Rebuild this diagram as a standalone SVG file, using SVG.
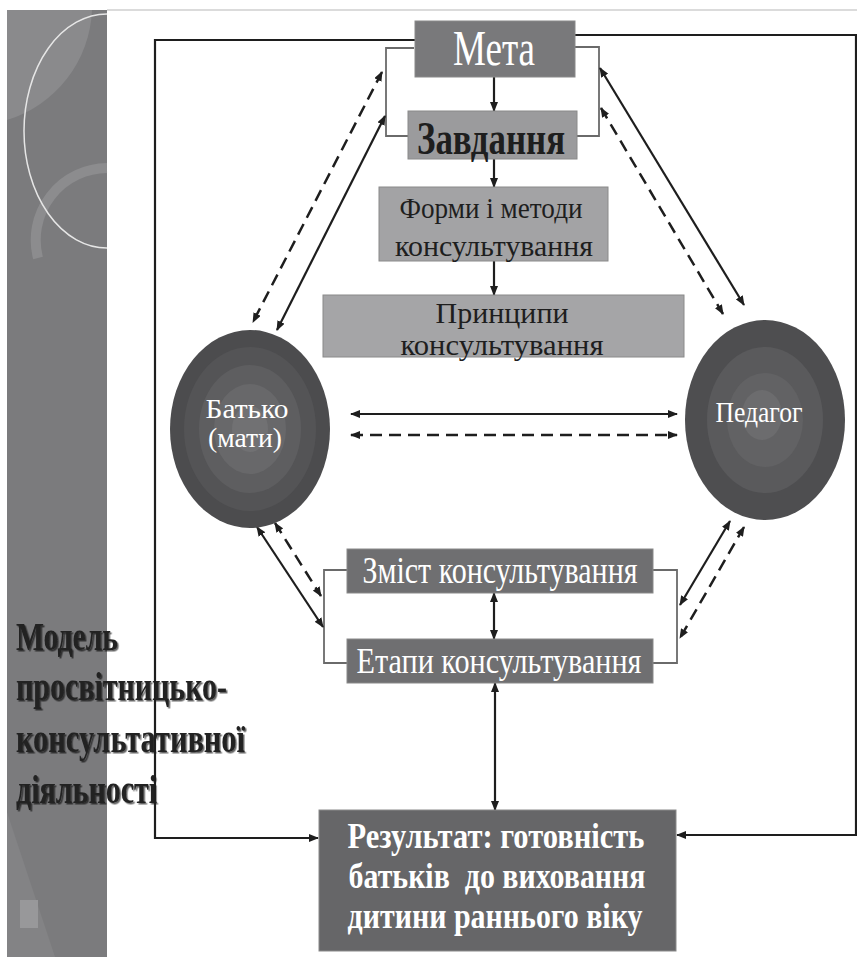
<svg xmlns="http://www.w3.org/2000/svg" width="857" height="957" viewBox="0 0 857 957">
<style>
.t{font-family:"Liberation Serif","Times New Roman",serif;text-anchor:middle}
.w{fill:#ffffff}
.d{fill:#1e1e1e}
.ln{stroke:#1e1e1e;stroke-width:2.2;fill:none}
.ds{stroke:#1e1e1e;stroke-width:2.5;fill:none;stroke-dasharray:12 7}
.br{stroke:#6a6a6a;stroke-width:1.8;fill:none}
.bx{stroke:#8a8a8a;stroke-width:1}
.side{font-family:"Liberation Serif","Times New Roman",serif;font-weight:bold;fill:#222222}
</style>
<defs>
<marker id="ah" viewBox="0 0 10 8" refX="9" refY="4" markerWidth="10" markerHeight="8" markerUnits="userSpaceOnUse" orient="auto-start-reverse">
<path d="M0,0 L10,4 L0,8 z" fill="#1e1e1e"/>
</marker>
<filter id="sh" x="-5%" y="-20%" width="110%" height="140%">
<feDropShadow dx="1.5" dy="1.5" stdDeviation="0.6" flood-color="#000" flood-opacity="0.6"/>
</filter>
</defs>
<rect width="857" height="957" fill="#ffffff"/>
<g id="sidepanel">
<rect x="7" y="10" width="100" height="947" fill="#7b7b7d"/>
<path d="M7,10 L92,10 A120,120 0 0 1 7,120 Z" fill="#8a8a8c"/>
<path d="M7,812 L55,957 L7,957 Z" fill="#838385"/>
<path d="M107,168 A72,72 0 0 0 38,258" stroke="#8c8c8e" stroke-width="10" fill="none"/>
<path d="M107,14 A83,117 0 0 0 107,248" stroke="#e6e6e6" stroke-width="1.5" fill="none"/>
<rect x="20" y="900" width="18" height="28" fill="#98989a"/>
<line x1="107" y1="10" x2="857" y2="10" stroke="#cfcfcf" stroke-width="1.5"/>
<g filter="url(#sh)">
<text class="side" x="16" y="650" font-size="40" textLength="102" lengthAdjust="spacingAndGlyphs">Модель</text>
<text class="side" x="16" y="700" font-size="40" textLength="211" lengthAdjust="spacingAndGlyphs">просвітницько-</text>
<text class="side" x="16" y="752" font-size="40" textLength="229" lengthAdjust="spacingAndGlyphs">консультативної</text>
<text class="side" x="16" y="803" font-size="40" textLength="141" lengthAdjust="spacingAndGlyphs">діяльності</text>
</g>
</g>
<g id="connectors">
<polyline class="ln" points="415,40 155,40 155,838 318,838" stroke-width="2.5" marker-end="url(#ah)"/>
<polyline class="ln" points="575,35 856,35 856,835 677,835" stroke-width="2.5" marker-end="url(#ah)"/>
<line class="ln" x1="494" y1="77" x2="494" y2="111" marker-end="url(#ah)"/>
<polyline class="br" points="414,48 386,48 386,136 408,136"/>
<polyline class="br" points="575,47 599,47 599,136 577,136"/>
<line class="ln" x1="494" y1="159" x2="494" y2="187" marker-end="url(#ah)"/>
<line class="ln" x1="494" y1="261" x2="494" y2="295" marker-end="url(#ah)"/>
<line class="ln" x1="385" y1="116" x2="277" y2="330" marker-start="url(#ah)" marker-end="url(#ah)"/>
<line class="ds" x1="382" y1="72" x2="253" y2="322" marker-start="url(#ah)" marker-end="url(#ah)"/>
<line class="ln" x1="600" y1="68" x2="744" y2="305" marker-start="url(#ah)" marker-end="url(#ah)"/>
<line class="ds" x1="601" y1="108" x2="723" y2="314" marker-start="url(#ah)" marker-end="url(#ah)"/>
<line class="ln" x1="351" y1="414" x2="677" y2="414" stroke-width="3" marker-start="url(#ah)" marker-end="url(#ah)"/>
<line class="ds" x1="351" y1="435" x2="677" y2="435" stroke-width="3.5" stroke-dasharray="14 8" marker-start="url(#ah)" marker-end="url(#ah)"/>
<polyline class="br" points="347,570 324,570 324,663 347,663"/>
<polyline class="br" points="653,570 677,570 677,663 653,663"/>
<line class="ln" x1="494" y1="593" x2="494" y2="639" marker-start="url(#ah)" marker-end="url(#ah)"/>
<line class="ln" x1="257" y1="527" x2="323" y2="627" marker-start="url(#ah)" marker-end="url(#ah)"/>
<line class="ds" x1="275" y1="523" x2="321" y2="596" marker-start="url(#ah)" marker-end="url(#ah)"/>
<line class="ln" x1="730" y1="521" x2="680" y2="605" marker-start="url(#ah)" marker-end="url(#ah)"/>
<line class="ds" x1="744" y1="527" x2="680" y2="638" marker-start="url(#ah)" marker-end="url(#ah)"/>
<line class="ln" x1="495" y1="683" x2="495" y2="810" marker-start="url(#ah)" marker-end="url(#ah)"/>
</g>
<g id="meta">
<rect class="bx" x="415" y="21" width="160" height="56" fill="#79797b"/>
<text class="t w" x="494" y="65" font-size="50" textLength="82" lengthAdjust="spacingAndGlyphs">Мета</text>
</g>
<g id="zavdannia">
<rect class="bx" x="408" y="111" width="169" height="48" fill="#9b9b9d"/>
<text class="t d" x="491" y="154" font-size="46" font-weight="bold" textLength="148" lengthAdjust="spacingAndGlyphs">Завдання</text>
</g>
<g id="formy">
<rect class="bx" x="379" y="187" width="229" height="74" fill="#a3a3a5"/>
<text class="t d" x="491" y="218" font-size="30" textLength="183" lengthAdjust="spacingAndGlyphs">Форми і методи</text>
<text class="t d" x="494" y="256" font-size="30" textLength="198" lengthAdjust="spacingAndGlyphs">консультування</text>
</g>
<g id="pryntsypy">
<rect class="bx" x="323" y="295" width="361" height="62" fill="#a5a5a7"/>
<text class="t d" x="502" y="323" font-size="30" textLength="133" lengthAdjust="spacingAndGlyphs">Принципи</text>
<text class="t d" x="502" y="355" font-size="30" textLength="203" lengthAdjust="spacingAndGlyphs">консультування</text>
</g>
<g id="batko">
<ellipse cx="250" cy="429" rx="80" ry="99" fill="#4c4c4e"/>
<ellipse cx="250" cy="429" rx="66" ry="82" fill="#545456"/>
<ellipse cx="250" cy="429" rx="51" ry="64" fill="#5e5e60"/>
<ellipse cx="250" cy="429" rx="36" ry="45" fill="#68686a"/>
<ellipse cx="250" cy="429" rx="18" ry="23" fill="#717173"/>
<text class="t w" x="247" y="418" font-size="28" textLength="83" lengthAdjust="spacingAndGlyphs">Батько</text>
<text class="t w" x="245" y="447" font-size="28" textLength="74" lengthAdjust="spacingAndGlyphs">(мати)</text>
</g>
<g id="pedagog">
<ellipse cx="765" cy="420" rx="80" ry="100" fill="#4e4e50"/>
<ellipse cx="765" cy="420" rx="58" ry="73" fill="#5a5a5c"/>
<ellipse cx="765" cy="420" rx="38" ry="47" fill="#626264"/>
<ellipse cx="762" cy="415" rx="20" ry="25" fill="#6c6c6e"/>
<text class="t w" x="759" y="422" font-size="30" textLength="87" lengthAdjust="spacingAndGlyphs">Педагог</text>
</g>
<g id="zmist">
<rect class="bx" x="347" y="549" width="306" height="44" fill="#6f6f71"/>
<text class="t w" x="500" y="583" font-size="37" textLength="275" lengthAdjust="spacingAndGlyphs">Зміст консультування</text>
</g>
<g id="etapy">
<rect class="bx" x="347" y="639" width="306" height="44" fill="#6f6f71"/>
<text class="t w" x="499" y="673" font-size="36" textLength="285" lengthAdjust="spacingAndGlyphs">Етапи консультування</text>
</g>
<g id="rezultat">
<rect class="bx" x="319" y="810" width="357" height="141" fill="#666668"/>
<text class="t w" x="496" y="848" font-size="35" font-weight="bold" textLength="297" lengthAdjust="spacingAndGlyphs">Результат: готовність</text>
<text class="t w" x="497" y="888" font-size="35" font-weight="bold" textLength="297" lengthAdjust="spacingAndGlyphs" xml:space="preserve">батьків  до виховання</text>
<text class="t w" x="495" y="928" font-size="35" font-weight="bold" textLength="295" lengthAdjust="spacingAndGlyphs">дитини раннього віку</text>
</g>
</svg>
